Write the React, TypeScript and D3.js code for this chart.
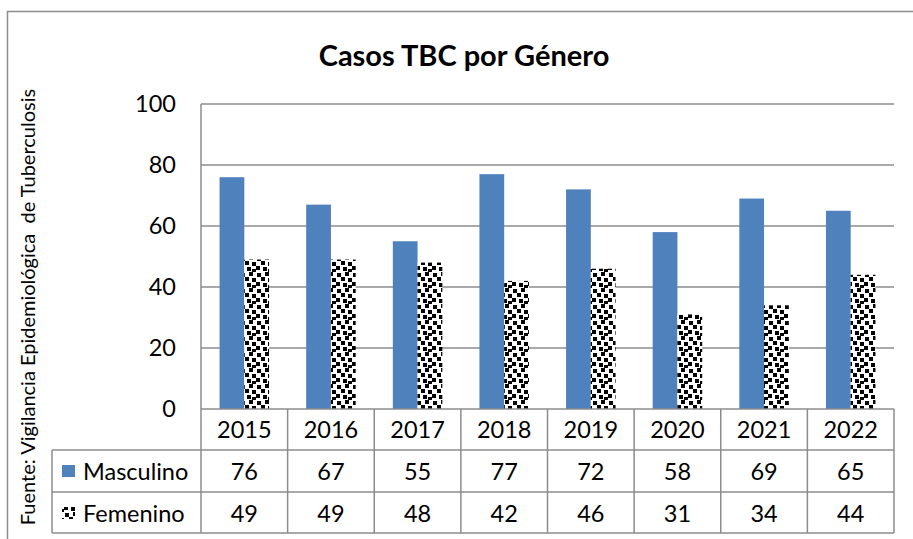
import React, { useEffect, useRef } from 'react';
import * as d3 from 'd3';

const years = ['2015', '2016', '2017', '2018', '2019', '2020', '2021', '2022'];
const masculino = [76, 67, 55, 77, 72, 58, 69, 65];
const femenino = [49, 49, 48, 42, 46, 31, 34, 44];
const yTicks = [0, 20, 40, 60, 80, 100];
const seriesNames = ['Masculino', 'Femenino'];

const FONT = 'Lato, "Open Sans", sans-serif';
const GRID = '#8c8c8c';
const BLUE = '#4f81bd';

// confetti squares inside one 16x16 tile
const confetti = [
  [1, 1], [9, 0], [5, 5], [12, 6], [0, 10], [7, 11], [12, 13],
];

export default function App() {
  const ref = useRef<SVGSVGElement>(null);

  useEffect(() => {
    const svg = d3.select(ref.current);
    svg.selectAll('*').remove();

    const W = 913, H = 539;
    const m = { left: 201, right: 19, top: 104, bottom: 130 };
    const plotB = H - m.bottom;
    const rowH = [41, 42, 41];

    const defs = svg.append('defs');
    const pat = defs.append('pattern')
      .attr('id', 'confetti')
      .attr('patternUnits', 'userSpaceOnUse')
      .attr('width', 16).attr('height', 16);
    pat.append('rect').attr('width', 16).attr('height', 16).attr('fill', '#fff');
    pat.selectAll('rect.sq').data(confetti).enter().append('rect')
      .attr('class', 'sq')
      .attr('x', d => d[0]).attr('y', d => d[1])
      .attr('width', 4).attr('height', 4).attr('fill', '#000');

    svg.append('rect').attr('width', W).attr('height', H).attr('fill', '#fff');
    // outer chart border
    svg.append('rect')
      .attr('x', 7.5).attr('y', 11.5).attr('width', W + 20).attr('height', H + 20)
      .attr('fill', 'none').attr('stroke', GRID).attr('stroke-width', 1.5);

    const x = d3.scaleBand().domain(years).range([m.left, W - m.right]);
    const xs = d3.scaleBand().domain(seriesNames)
      .range([0, x.bandwidth()]).paddingInner(0).paddingOuter(0.75);
    const y = d3.scaleLinear().domain([0, 100]).range([plotB, m.top]);

    // gridlines
    svg.append('g').selectAll('line').data(yTicks.filter(t => t > 0)).enter().append('line')
      .attr('x1', m.left).attr('x2', W - m.right)
      .attr('y1', d => y(d)).attr('y2', d => y(d))
      .attr('stroke', GRID).attr('stroke-width', 1.5);

    // tick labels
    svg.append('g').selectAll('text').data(yTicks).enter().append('text')
      .attr('x', 176).attr('y', d => y(d) + 8)
      .attr('text-anchor', 'end')
      .attr('font-family', FONT).attr('font-size', 23.5)
      .text(d => d);

    // bars
    const g = svg.append('g');
    g.selectAll('rect.m').data(masculino).enter().append('rect')
      .attr('x', (d, i) => x(years[i])! + xs('Masculino')!)
      .attr('width', xs.bandwidth())
      .attr('y', d => y(d)).attr('height', d => plotB - y(d))
      .attr('fill', BLUE);
    g.selectAll('rect.f').data(femenino).enter().append('rect')
      .attr('x', (d, i) => x(years[i])! + xs('Femenino')!)
      .attr('width', xs.bandwidth())
      .attr('y', d => y(d)).attr('height', d => plotB - y(d))
      .attr('fill', 'url(#confetti)');

    // data table
    const r0 = plotB, r1 = r0 + rowH[0], r2 = r1 + rowH[1], r3 = r2 + rowH[2];
    const legL = 52;
    const t = svg.append('g').attr('stroke', GRID).attr('stroke-width', 1.5);
    t.append('line').attr('x1', m.left).attr('x2', W - m.right).attr('y1', r0).attr('y2', r0);
    [r1, r2, r3].forEach(r => t.append('line').attr('x1', legL).attr('x2', W - m.right).attr('y1', r).attr('y2', r));
    t.append('line').attr('x1', legL).attr('x2', legL).attr('y1', r1).attr('y2', r3);
    t.append('line').attr('x1', m.left).attr('x2', m.left).attr('y1', m.top).attr('y2', r3);
    years.forEach(yr => {
      const xx = x(yr)! + x.bandwidth();
      t.append('line').attr('x1', xx).attr('x2', xx).attr('y1', r0).attr('y2', r3);
    });

    const txt = svg.append('g').attr('font-family', FONT).attr('font-size', 23.5).attr('text-anchor', 'middle');
    years.forEach((yr, i) => {
      const cx = x(yr)! + x.bandwidth() / 2;
      txt.append('text').attr('x', cx).attr('y', r0 + 29).text(yr);
      txt.append('text').attr('x', cx).attr('y', r1 + 30).text(masculino[i]);
      txt.append('text').attr('x', cx).attr('y', r2 + 30).text(femenino[i]);
    });

    // legend keys in table
    svg.append('rect').attr('x', 62).attr('y', r1 + 15).attr('width', 13).attr('height', 12).attr('fill', BLUE);
    svg.append('rect').attr('x', 62).attr('y', r2 + 15).attr('width', 13).attr('height', 12).attr('fill', 'url(#confetti)');
    const lg = svg.append('g').attr('font-family', FONT).attr('font-size', 23.5);
    lg.append('text').attr('x', 83).attr('y', r1 + 30).text(seriesNames[0]);
    lg.append('text').attr('x', 83).attr('y', r2 + 30).text(seriesNames[1]);

    // title
    svg.append('text')
      .attr('x', 464).attr('y', 66)
      .attr('text-anchor', 'middle')
      .attr('font-family', FONT).attr('font-size', 29).attr('font-weight', 'bold')
      .text('Casos TBC por Género');

    // source, rotated
    svg.append('text')
      .attr('transform', 'translate(35,307) rotate(-90)')
      .attr('text-anchor', 'middle')
      .attr('font-family', FONT).attr('font-size', 20)
      .style('white-space', 'pre')
      .text('Fuente: Vigilancia Epidemiológica  de Tuberculosis');
  }, []);

  return (
    <svg ref={ref} width={913} height={539}
      style={{ position: 'absolute', left: 0, top: 0, display: 'block' }} />
  );
}
